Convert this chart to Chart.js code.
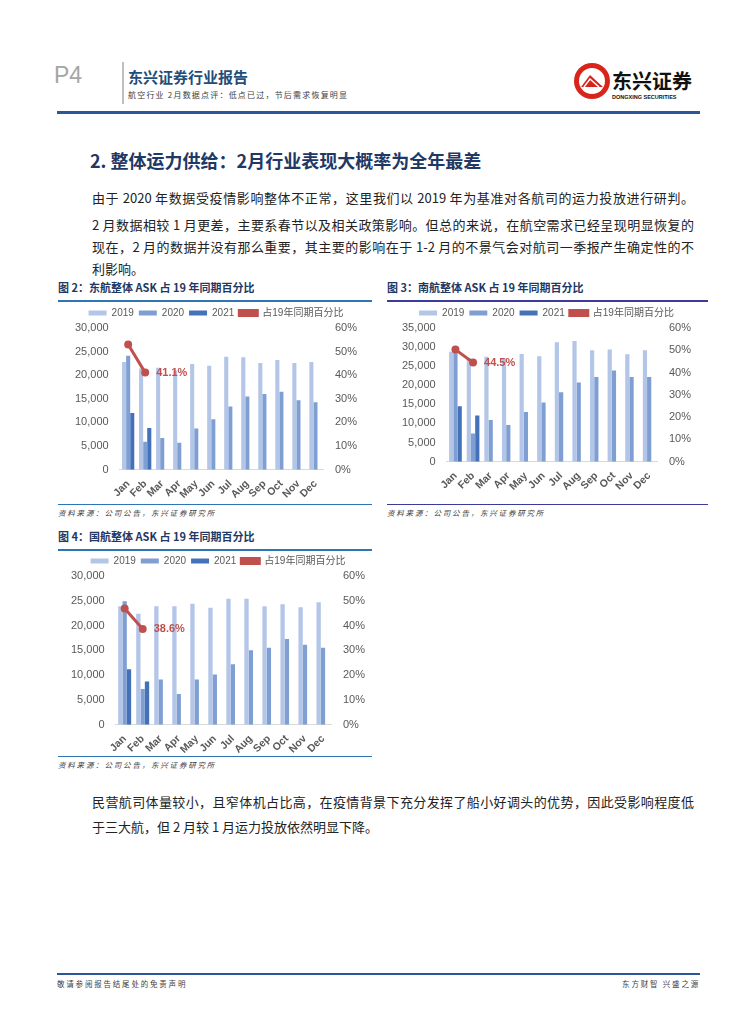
<!DOCTYPE html>
<html lang="zh">
<head>
  <meta charset="UTF-8">
  <title>航空行业 2月数据点评</title>
  <script src="https://cdn.jsdelivr.net/npm/chart.js"></script>
  <style>
    body { margin: 0; background: #fff; font-family: "Noto Sans CJK SC", sans-serif; }
    .page { position: relative; width: 755px; height: 1024px; overflow: hidden; }
    .abs { position: absolute; }
    .p4 { left: 54px; top: 62px; font: 300 23px "Liberation Sans", Arial, sans-serif; color: #a6a6a6; }
    .vline { left: 122px; top: 62px; width: 2px; height: 42px; background: #bfbfbf; }
    .brand { left: 128px; top: 66px; font-size: 15px; font-weight: bold; color: #1f4e79; }
    .sub { left: 128px; top: 89px; font-size: 8px; color: #404040; letter-spacing: 1.2px; }
    .topline { left: 57px; top: 111px; width: 643px; height: 3px; background: #2b5797; }
    .h2 { left: 90px; top: 147px; font-size: 18px; font-weight: bold; color: #1f3864; }
    .para { left: 92px; width: 602px; font-size: 13px; color: #222; line-height: 22px; }
    .para div { text-align: justify; text-align-last: justify; white-space: nowrap; }
    .para div.last { text-align-last: left; }
    .cap { font-size: 11px; font-weight: bold; color: #1f3864; }
    .capline { height: 2px; background: #2e75b6; }
    .src { font-size: 7.5px; font-style: italic; color: #404040; letter-spacing: 1.8px; }
    .box { position: absolute; }
    .foot { font-size: 7.5px; color: #404040; letter-spacing: 1.8px; }
  </style>
</head>
<body>
<div class="page">
  <div class="abs p4">P4</div>
  <div class="abs vline"></div>
  <div class="abs brand">东兴证券行业报告</div>
  <div class="abs sub">航空行业 2月数据点评：低点已过，节后需求恢复明显</div>
  <svg class="abs" style="left:572px;top:60px" width="130" height="44" viewBox="0 0 130 44">
    <circle cx="20" cy="21" r="18" fill="#d9241b"/>
    <circle cx="20" cy="21" r="13" fill="#fff"/>
    <path d="M9 27 L18 15 L31 27 Z" fill="#d9241b"/>
    <path d="M12 27 L18 19 L27 27" stroke="#fff" stroke-width="1.5" fill="none"/>
    <text x="40" y="29" font-family="Noto Sans CJK SC" font-weight="bold" font-size="20" fill="#111">东兴证券</text>
    <text x="40" y="39" font-family="Liberation Sans" font-weight="bold" font-size="5.5" fill="#111">DONGXING SECURITIES</text>
  </svg>
  <div class="abs topline"></div>

  <div class="abs h2">2. 整体运力供给：2月行业表现大概率为全年最差</div>

  <div class="abs para" style="top:187px">
    <div>由于 2020 年数据受疫情影响整体不正常，这里我们以 2019 年为基准对各航司的运力投放进行研判。</div>
  </div>
  <div class="abs para" style="top:214px">
    <div>2 月数据相较 1 月更差，主要系春节以及相关政策影响。但总的来说，在航空需求已经呈现明显恢复的</div>
    <div>现在，2 月的数据并没有那么重要，其主要的影响在于 1-2 月的不景气会对航司一季报产生确定性的不</div>
    <div class="last">利影响。</div>
  </div>

  <div class="abs cap" style="left:58px;top:279px">图 2：东航整体 ASK 占 19 年同期百分比</div>
  <div class="abs capline" style="left:58px;top:300px;width:314px"></div>
  <div class="box" style="left:58px;top:303px;width:314px;height:200px"><canvas id="c1"></canvas></div>
  <div class="abs capline" style="left:58px;top:504px;width:314px;height:1px"></div>
  <div class="abs src" style="left:58px;top:507px">资料来源：公司公告，东兴证券研究所</div>

  <div class="abs cap" style="left:387px;top:279px">图 3：南航整体 ASK 占 19 年同期百分比</div>
  <div class="abs capline" style="left:387px;top:300px;width:321px;background:#3b3b9c"></div>
  <div class="box" style="left:387px;top:303px;width:321px;height:200px"><canvas id="c2"></canvas></div>
  <div class="abs capline" style="left:387px;top:504px;width:321px;height:1px;background:#3b3b9c"></div>
  <div class="abs src" style="left:387px;top:507px">资料来源：公司公告，东兴证券研究所</div>

  <div class="abs cap" style="left:58px;top:528px">图 4：国航整体 ASK 占 19 年同期百分比</div>
  <div class="abs capline" style="left:58px;top:549px;width:314px"></div>
  <div class="box" style="left:58px;top:551px;width:314px;height:205px"><canvas id="c3"></canvas></div>
  <div class="abs capline" style="left:58px;top:756px;width:314px;height:1px"></div>
  <div class="abs src" style="left:58px;top:759px">资料来源：公司公告，东兴证券研究所</div>

  <div class="abs para" style="top:789px;line-height:25px">
    <div>民营航司体量较小，且窄体机占比高，在疫情背景下充分发挥了船小好调头的优势，因此受影响程度低</div>
    <div class="last">于三大航，但 2 月较 1 月运力投放依然明显下降。</div>
  </div>

  <div class="abs" style="left:57px;top:973px;width:643px;height:2px;background:#2b5797"></div>
  <div class="abs foot" style="left:57px;top:978px">敬请参阅报告结尾处的免责声明</div>
  <div class="abs foot" style="right:55px;top:978px">东方财智 兴盛之源</div>
</div>

<script>
  const months = ["Jan", "Feb", "Mar", "Apr", "May", "Jun", "Jul", "Aug", "Sep", "Oct", "Nov", "Dec"];

  // 东航
  const mu2019 = [22800, 21400, 21600, 21000, 22400, 22000, 23900, 23800, 22600, 23200, 22600, 22800];
  const mu2020 = [24100, 5900, 6700, 5700, 8700, 10700, 13400, 15500, 16000, 16500, 14700, 14300];
  const mu2021 = [12000, 8800, null, null, null, null, null, null, null, null, null, null];
  const muPct = [53.0, 41.1, null, null, null, null, null, null, null, null, null, null];

  // 南航
  const cz2019 = [28800, 27000, 27500, 27100, 28200, 27600, 31300, 31600, 29200, 29400, 28100, 29200];
  const cz2020 = [29000, 7400, 10900, 9600, 13000, 15500, 18200, 20700, 22200, 23900, 22200, 22200];
  const cz2021 = [14500, 12100, null, null, null, null, null, null, null, null, null, null];
  const czPct = [50.3, 44.5, null, null, null, null, null, null, null, null, null, null];

  // 国航
  const ca2019 = [23900, 22400, 23900, 23900, 24400, 23600, 25400, 25400, 23900, 24300, 23700, 24700];
  const ca2020 = [24900, 7200, 9100, 6200, 9100, 10100, 12200, 15000, 15500, 17300, 16100, 15500];
  const ca2021 = [11200, 8700, null, null, null, null, null, null, null, null, null, null];
  const caPct = [46.9, 38.6, null, null, null, null, null, null, null, null, null, null];

  const seriesNames = ["2019", "2020", "2021", "占19年同期百分比"];
  const tickFont = { family: "'Liberation Sans', Arial, 'Noto Sans CJK SC'", size: 11 };
  const xFont = { family: "'Liberation Sans', Arial", size: 10.5, weight: "bold" };

  // label next to the Feb point
  const pointLabel = {
    id: "pointLabel",
    afterDatasetsDraw(chart) {
      const meta = chart.getDatasetMeta(3);
      const pt = meta.data[1];
      const ctx = chart.ctx;
      ctx.save();
      ctx.font = "bold 11px 'Liberation Sans', Arial";
      ctx.fillStyle = "#c0504d";
      ctx.textBaseline = "middle";
      ctx.fillText(chart.data.datasets[3].data[1].toFixed(1) + "%", pt.x + 11, pt.y);
      ctx.restore();
    }
  };

  function drawChart(id, v19, v20, v21, pct, yMax, yStep, pad) {
    new Chart(document.getElementById(id), {
      type: "bar",
      data: {
        labels: months,
        datasets: [
          { label: seriesNames[0], data: v19, backgroundColor: "#b4c6e7", yAxisID: "y", order: 2 },
          { label: seriesNames[1], data: v20, backgroundColor: "#7f9fd3", yAxisID: "y", order: 2 },
          { label: seriesNames[2], data: v21, backgroundColor: "#4472b8", yAxisID: "y", order: 2 },
          { label: seriesNames[3], data: pct, type: "line", yAxisID: "y2", order: 1,
            borderColor: "#c0504d", backgroundColor: "#c0504d", borderWidth: 3,
            pointRadius: 4, pointBackgroundColor: "#c0504d", pointBorderWidth: 0 }
        ]
      },
      options: {
        responsive: true,
        maintainAspectRatio: false,
        animation: false,
        datasets: { bar: { categoryPercentage: 0.72, barPercentage: 1.0 } },
        layout: { padding: pad },
        plugins: {
          legend: {
            position: "top",
            labels: { font: { family: tickFont.family, size: 10 }, color: "#595959",
                      boxWidth: 18, boxHeight: 5, padding: 5,
                      sort: (a, b) => a.datasetIndex - b.datasetIndex }
          },
          tooltip: { enabled: false }
        },
        scales: {
          x: {
            grid: { display: false },
            border: { display: true, color: "#d9d9d9" },
            ticks: { font: xFont, color: "#595959", maxRotation: 45, minRotation: 45,
                     autoSkip: false, padding: 0 }
          },
          y: {
            position: "left",
            min: 0, max: yMax,
            grid: { display: false },
            border: { display: false },
            ticks: { stepSize: yStep, font: tickFont, color: "#595959", autoSkip: false,
                     callback: v => v.toLocaleString("en-US") }
          },
          y2: {
            position: "right",
            min: 0, max: 60,
            grid: { display: false },
            border: { display: false },
            ticks: { stepSize: 10, font: tickFont, color: "#595959", autoSkip: false,
                     callback: v => v + "%" }
          }
        }
      },
      plugins: [pointLabel]
    });
  }

  drawChart("c1", mu2019, mu2020, mu2021, muPct, 30000, 5000, { left: 14, right: 12, top: 0, bottom: 2 });
  drawChart("c2", cz2019, cz2020, cz2021, czPct, 35000, 5000, { left: 12, right: 14, top: 0, bottom: 10 });
  drawChart("c3", ca2019, ca2020, ca2021, caPct, 30000, 5000, { left: 10, right: 4, top: 0, bottom: 0 });
</script>
</body>
</html>
